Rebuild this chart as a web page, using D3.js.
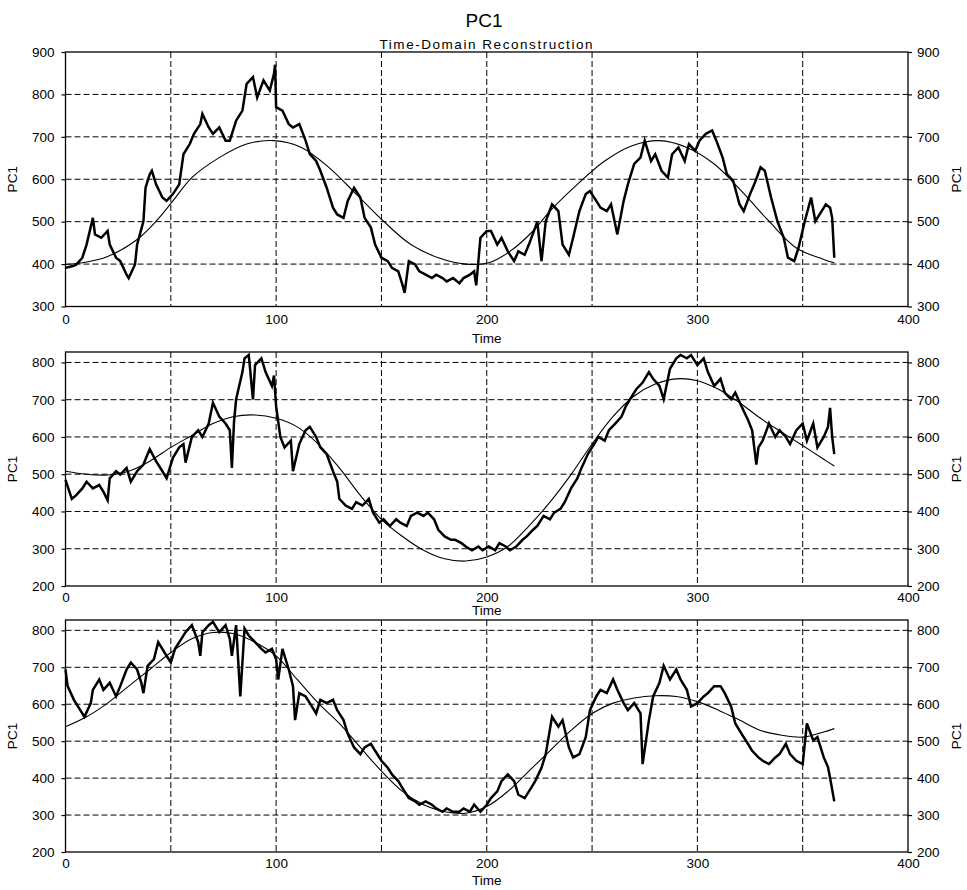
<!DOCTYPE html>
<html><head><meta charset="utf-8">
<script src="https://cdn.jsdelivr.net/npm/d3@7"></script>
<style>
body{margin:0;background:#fff}
text{font-family:"Liberation Sans",Arial,sans-serif;fill:#000}
</style>
</head><body>
<svg id="c" width="967" height="890"></svg>
<script>
// ---- data ----
const xTicks = [0, 100, 200, 300, 400];
const xGrid = [50, 100, 150, 200, 250, 300, 350];
const yTicks1 = [300, 400, 500, 600, 700, 800, 900];
const yTicks23 = [200, 300, 400, 500, 600, 700, 800];

const p1Signal = [[0,391],[3,395],[5,398],[8,415],[10,446],[13,509],[14,470],[17,462],[20,478],[21,446],[24,415],[26,407],[29,375],[30,367],[33,399],[34,446],[37,501],[38,580],[40,612],[41,620],[43,588],[46,557],[48,549],[51,565],[54,588],[56,659],[59,683],[61,707],[64,730],[65,754],[68,722],[70,707],[73,722],[76,691],[78,691],[81,738],[84,762],[86,825],[89,841],[91,793],[94,833],[97,809],[99,849],[99.5,870],[100,770],[103,762],[106,730],[108,722],[111,730],[114,691],[116,659],[119,643],[121,620],[124,580],[127,533],[129,517],[132,509],[134,549],[137,580],[140,557],[142,509],[145,486],[147,446],[150,415],[153,407],[155,391],[158,383],[160,351],[161,332],[163,407],[166,399],[168,383],[171,375],[174,367],[176,375],[179,367],[181,359],[184,367],[187,355],[189,367],[192,375],[194,383],[195,350],[197,462],[200,478],[202,478],[205,446],[207,462],[210,430],[213,407],[215,430],[218,422],[220,446],[223,486],[224,500],[226,407],[228,501],[231,541],[234,525],[236,446],[239,422],[241,462],[244,525],[247,565],[249,572],[252,549],[254,533],[257,525],[259,541],[262,470],[265,549],[267,588],[270,636],[273,651],[275,691],[278,643],[280,659],[283,620],[286,604],[288,659],[291,675],[294,643],[296,683],[299,667],[301,691],[304,707],[307,715],[309,691],[312,651],[314,612],[317,596],[320,541],[322,525],[325,565],[327,588],[330,628],[332,620],[335,557],[338,501],[341,462],[343,415],[346,407],[348,438],[351,501],[354,557],[356,501],[359,525],[361,541],[363,533],[364,509],[365,415]];
const p1Fit = [[0,399],[10,405],[20,418],[34,458],[43,501],[51,549],[60,604],[73,651],[86,683],[99,691],[112,675],[125,628],[138,565],[151,501],[164,446],[177,415],[190,400],[201,403],[211,430],[222,478],[230,525],[243,588],[256,643],[269,679],[282,691],[295,675],[308,636],[321,572],[334,501],[347,438],[360,411],[365,403]];

const p2Signal = [[0,485],[3,434],[5,443],[8,462],[10,480],[13,462],[16,471],[18,453],[20,430],[21,489],[24,508],[26,499],[29,517],[31,480],[34,508],[37,526],[39,554],[40,567],[43,535],[46,508],[48,489],[51,544],[54,572],[56,581],[57,531],[60,600],[63,618],[65,600],[68,636],[70,692],[73,655],[76,636],[78,618],[79,517],[80,640],[81,701],[84,774],[85,811],[87,820],[89,701],[90,793],[93,811],[95,774],[98,737],[99,765],[100,682],[102,600],[104,572],[107,590],[108,508],[111,581],[114,618],[116,627],[119,600],[121,572],[124,554],[127,508],[129,480],[130,434],[133,416],[136,407],[138,425],[141,416],[144,434],[146,397],[149,370],[151,379],[154,361],[157,379],[159,370],[162,361],[164,388],[167,397],[170,388],[172,397],[175,379],[177,351],[180,333],[183,324],[185,324],[188,315],[190,306],[193,296],[196,306],[198,296],[201,306],[204,296],[206,315],[209,306],[211,296],[214,306],[217,324],[219,333],[222,351],[224,361],[227,388],[230,379],[232,397],[235,407],[237,425],[240,462],[243,489],[245,517],[248,554],[251,581],[253,600],[256,590],[258,618],[261,636],[264,655],[266,682],[269,710],[271,728],[274,746],[277,774],[279,756],[282,737],[284,701],[287,783],[290,811],[292,820],[295,811],[297,820],[300,793],[303,811],[305,774],[308,737],[311,756],[313,719],[316,701],[318,719],[321,682],[324,646],[326,618],[328,526],[329,572],[331,590],[334,636],[337,600],[339,618],[342,600],[344,581],[347,618],[350,636],[352,590],[355,636],[357,572],[360,600],[362,627],[363,678],[364,600],[365,554]];
const p2Fit = [[0,508],[10,500],[20,498],[30,508],[40,535],[50,572],[60,604],[70,636],[80,655],[90,659],[100,650],[110,627],[120,581],[130,517],[140,443],[150,379],[160,333],[170,296],[180,273],[190,267],[200,278],[210,306],[220,361],[230,425],[240,499],[250,581],[260,655],[270,710],[280,742],[290,756],[300,751],[310,728],[320,692],[330,650],[340,613],[350,577],[360,540],[365,522]];

const p3Signal = [[0,694],[1,649],[4,612],[7,584],[9,566],[12,603],[13,639],[16,667],[18,639],[21,658],[24,621],[26,649],[29,694],[31,713],[34,694],[36,658],[37,630],[39,704],[42,722],[44,768],[47,740],[50,713],[52,750],[55,777],[57,795],[60,814],[63,768],[64,731],[65,795],[68,814],[70,823],[73,795],[76,814],[78,777],[79,731],[81,814],[83,621],[85,805],[87,786],[90,768],[93,750],[95,740],[98,750],[100,722],[101,667],[103,750],[106,694],[108,649],[109,557],[111,630],[114,621],[116,603],[119,575],[121,612],[124,603],[127,612],[129,584],[132,557],[134,520],[137,483],[140,465],[142,483],[145,493],[147,474],[150,447],[153,428],[155,410],[158,392],[160,373],[163,346],[166,337],[168,328],[171,337],[174,328],[176,318],[179,309],[181,318],[184,309],[187,309],[189,318],[192,309],[194,328],[197,309],[200,328],[202,346],[205,364],[207,392],[210,410],[213,392],[215,355],[218,346],[221,373],[223,392],[226,428],[228,465],[231,566],[234,539],[236,557],[239,483],[241,456],[244,465],[247,511],[249,584],[252,621],[254,639],[257,630],[260,667],[262,639],[265,603],[267,584],[270,603],[273,575],[274,438],[277,557],[279,621],[282,658],[284,704],[287,667],[290,694],[292,667],[295,639],[297,594],[300,603],[303,621],[305,630],[308,649],[311,649],[313,630],[316,594],[318,548],[321,520],[324,493],[326,474],[329,456],[331,447],[334,438],[337,456],[339,465],[342,493],[344,465],[347,447],[350,438],[352,548],[355,502],[357,511],[360,456],[362,430],[363,401],[365,337]];
const p3Fit = [[0,539],[10,566],[20,603],[30,649],[40,694],[50,740],[60,777],[70,794],[80,791],[90,768],[100,731],[110,667],[120,603],[130,548],[140,483],[150,419],[160,364],[170,328],[180,309],[190,305],[200,323],[210,364],[220,419],[230,474],[240,529],[250,575],[260,603],[270,617],[280,623],[290,621],[300,607],[310,584],[320,557],[330,529],[340,516],[350,511],[360,525],[365,534]];

const title = "PC1";
const subtitle = "Time-Domain Reconstruction";
const yLabel = "PC1";
const xLabel = "Time";

// ---- layout ----
const svg = d3.select("#c");
const X0 = 65.5, X1 = 908;
const panels = [
  {signal: p1Signal, fit: p1Fit, domain: [300, 900], ticks: yTicks1, top: 52, bottom: 306.5, tickPad: 8, timeDy: 31},
  {signal: p2Signal, fit: p2Fit, domain: [200, 828], ticks: yTicks23, top: 352, bottom: 586, tickPad: 6, timeDy: 24},
  {signal: p3Signal, fit: p3Fit, domain: [200, 828], ticks: yTicks23, top: 620, bottom: 852, tickPad: 6, timeDy: 28}
];

svg.append("text").attr("x", 484).attr("y", 27).attr("text-anchor", "middle")
  .style("font-size", "19px").text(title);
svg.append("text").attr("x", 486).attr("y", 48.5).attr("text-anchor", "middle")
  .attr("textLength", 213).attr("lengthAdjust", "spacing")
  .style("font-size", "13.5px").text(subtitle);

const x = d3.scaleLinear().domain([0, 400]).range([X0, X1]);

panels.forEach(p => {
  const y = d3.scaleLinear().domain(p.domain).range([p.bottom, p.top]);
  const g = svg.append("g");
  const dash = "6,3";
  // grid
  g.selectAll(".vg").data(xGrid).join("line")
    .attr("x1", d => x(d)).attr("x2", d => x(d)).attr("y1", p.top).attr("y2", p.bottom)
    .attr("stroke", "#000").attr("stroke-width", 1).attr("stroke-dasharray", dash);
  g.selectAll(".hg").data(p.ticks.filter(t => t > p.domain[0] && t < p.domain[1])).join("line")
    .attr("x1", X0).attr("x2", X1).attr("y1", d => y(d)).attr("y2", d => y(d))
    .attr("stroke", "#000").attr("stroke-width", 1).attr("stroke-dasharray", dash);

  // lines
  g.append("path").datum(p.fit)
    .attr("d", d3.line().x(d => x(d[0])).y(d => y(d[1])).curve(d3.curveCatmullRom.alpha(0.5)))
    .attr("fill", "none").attr("stroke", "#000").attr("stroke-width", 1.1);
  g.append("path").datum(p.signal)
    .attr("d", d3.line().x(d => x(d[0])).y(d => y(d[1])).curve(d3.curveLinear))
    .attr("fill", "none").attr("stroke", "#000").attr("stroke-width", 2.5)
    .attr("stroke-linejoin", "miter");

  // frame
  g.append("rect").attr("x", X0).attr("y", p.top).attr("width", X1 - X0).attr("height", p.bottom - p.top)
    .attr("fill", "none").attr("stroke", "#000").attr("stroke-width", 1.3);

  // axes
  const fs = "13.5px";
  const la = g.append("g").attr("transform", `translate(${X0},0)`)
    .call(d3.axisLeft(y).tickValues(p.ticks).tickSize(4).tickPadding(7).tickFormat(d3.format("d")));
  const ra = g.append("g").attr("transform", `translate(${X1},0)`)
    .call(d3.axisRight(y).tickValues(p.ticks).tickSize(4).tickPadding(5).tickFormat(d3.format("d")));
  const ba = g.append("g").attr("transform", `translate(0,${p.bottom})`)
    .call(d3.axisBottom(x).tickValues(xTicks).tickSize(0).tickPadding(p.tickPad).tickFormat(d3.format("d")));
  [la, ra, ba].forEach(a => {
    a.select(".domain").remove();
    a.selectAll("text").style("font-size", fs).style("font-family", '"Liberation Sans",Arial,sans-serif');
    a.selectAll("line").attr("stroke", "#000").attr("stroke-width", 1.2);
  });

  // labels
  const my = (p.top + p.bottom) / 2;
  svg.append("text").attr("transform", `translate(17,${my}) rotate(-90)`)
    .attr("text-anchor", "middle").style("font-size", fs).text(yLabel);
  svg.append("text").attr("transform", `translate(961,${my}) rotate(-90)`)
    .attr("text-anchor", "middle").style("font-size", fs).text(yLabel);
  svg.append("text").attr("x", x(200)).attr("y", p.bottom + p.timeDy + 5)
    .attr("text-anchor", "middle").style("font-size", fs).text(xLabel);
});
</script>
</body></html>
